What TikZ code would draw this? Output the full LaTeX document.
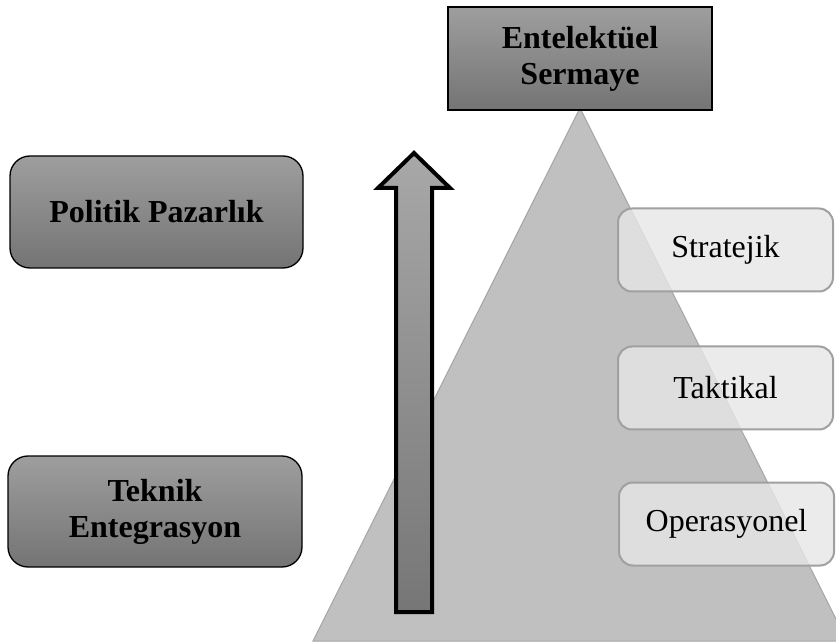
\documentclass[tikz,border=0pt]{standalone}
\usepackage{fontspec}
\setmainfont{Liberation Serif}
\definecolor{darktop}{RGB}{158,158,158}
\definecolor{darkbot}{RGB}{116,116,116}
\definecolor{arrowtop}{RGB}{168,168,168}
\definecolor{arrowbot}{RGB}{118,118,118}
\definecolor{pyramid}{RGB}{192,192,192}
\definecolor{pyramidline}{RGB}{165,165,165}
\definecolor{levelfill}{RGB}{230,230,230}
\definecolor{levelline}{RGB}{160,160,160}
\tikzset{
  darkbox/.style={draw=black, line width=1.3pt, top color=darktop, bottom color=darkbot,
    align=center, inner sep=0pt, font=\fontsize{32}{36}\selectfont\bfseries},
  levelbox/.style={draw=levelline, line width=2pt, fill=levelfill, fill opacity=0.8,
    text opacity=1, rounded corners=14pt, minimum width=215pt, minimum height=83pt,
    inner sep=0pt, font=\fontsize{32}{36}\selectfont}
}
\begin{document}
\begin{tikzpicture}[x=1pt,y=-1pt]
\useasboundingbox (0,0) rectangle (836,644);
% pyramid
\coordinate (apex) at (580,108);
\coordinate (baseL) at (313,641);
\coordinate (baseR) at (847,641);
\begin{scope}
\clip (0,0) rectangle (836,644);
\filldraw[fill=pyramid, draw=pyramidline, line width=1pt] (apex) -- (baseL) -- (baseR) -- cycle;
\end{scope}
% upward arrow
\filldraw[draw=black, line width=4pt, line join=miter, top color=arrowtop, bottom color=arrowbot]
  (396,612) -- (396,188) -- (378,188) -- (414,153) -- (450,188) -- (432,188) -- (432,612) -- cycle;
% level boxes
\node[levelbox] (strat) at (725.5,250) {Stratejik};
\node[levelbox] (takt) at (725.5,388) {Taktikal};
\node[levelbox] (oper) at (726.5,524) {Operasyonel};
% dark boxes
\node[darkbox, minimum width=264pt, minimum height=103pt] (capital) at (580,58.5) {Entelektüel\\Sermaye};
\node[darkbox, rounded corners=20pt, minimum width=293pt, minimum height=112pt] (politic) at (156.5,212) {Politik Pazarlık};
\node[darkbox, rounded corners=20pt, minimum width=294pt, minimum height=111pt] (tech) at (155,511.5) {Teknik\\Entegrasyon};
\end{tikzpicture}
\end{document}
